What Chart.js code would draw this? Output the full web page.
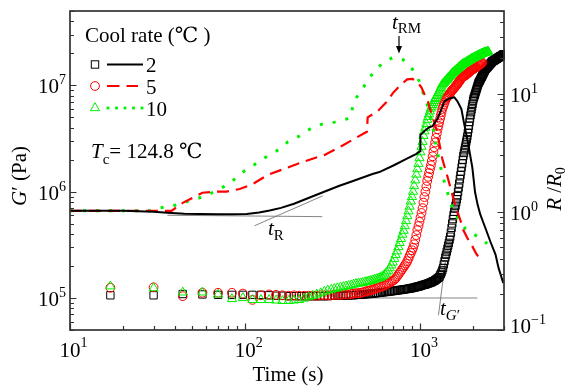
<!DOCTYPE html>
<html><head><meta charset="utf-8">
<script src="https://cdn.jsdelivr.net/npm/chart.js@4.4.1/dist/chart.umd.min.js"></script>
<style>html,body{margin:0;padding:0;background:#fff;}canvas{display:block;}</style>
</head><body>
<canvas id="c" width="568" height="386" style="width:568px;height:386px"></canvas>
<script>
// ---------- data ----------
const seriesLabels = ['2', '5', '10'];           // cooling rate (°C/min)
// sampling times of the G' measurements (s)
const time = [17,30,44,57,70,84,97,110,123,137,150,163,177,190,203,217,230,243,256,270,283,296,310,323,336,350,363,376,389,403,416,429,443,456,469,483,496,509,522,536,549,562,576,589,602,616,629,642,655,669,682,695,709,722,735,749,762,775,788,802,815,828,842,855,868,882,895,908,921,935,948,961,975,988,1001,1015,1028,1041,1054,1068,1081,1094,1108,1121,1134,1148,1161,1174,1187,1201,1214,1227,1241,1254,1267,1281,1294,1307,1320,1334,1347,1360,1374,1387,1400,1414,1427,1440,1453,1467,1480,1493,1507,1520,1533,1547,1560,1573,1586,1600,1613,1626,1640,1653,1666,1680,1693,1706,1719,1733,1746,1759,1773,1786,1799,1813,1826,1839,1852,1866,1879,1892,1906,1919,1932,1946,1959,1972,1985,1999,2012,2025,2039,2052,2065,2079,2092,2105,2118,2132,2145,2158,2172,2185,2198,2212,2225,2238,2251,2265,2278,2291,2305,2318,2331,2344,2358,2371,2384,2398,2411,2424,2437,2451,2464,2477,2491,2504,2517,2531,2544,2557,2570,2584,2597,2610,2624,2637,2650,2663,2677,2690,2703,2717,2730,2743,2756,2770,2783,2796,2810,2823,2836,2850,2863,2876,2890,2903,2916,2929,2943,2956,2969,2983];
// G' (Pa), cooling rate 2
const gRate2 = [1.06e5,1.06e5,1.09e5,1.08e5,1.07e5,1.07e5,1.07e5,1.07e5,1.07e5,1.06e5,
1.05e5,1.05e5,1.04e5,1.04e5,1.04e5,1.04e5,1.04e5,1.04e5,1.04e5,1.04e5,
1.04e5,1.04e5,1.05e5,1.05e5,1.05e5,1.05e5,1.05e5,1.05e5,1.06e5,1.06e5,
1.06e5,1.07e5,1.07e5,1.07e5,1.08e5,1.08e5,1.09e5,1.09e5,1.10e5,1.10e5,
1.11e5,1.11e5,1.12e5,1.12e5,1.13e5,1.13e5,1.14e5,1.14e5,1.15e5,1.15e5,
1.16e5,1.16e5,1.17e5,1.17e5,1.18e5,1.18e5,1.19e5,1.19e5,1.20e5,1.20e5,
1.21e5,1.21e5,1.22e5,1.22e5,1.23e5,1.23e5,1.24e5,1.25e5,1.25e5,1.26e5,
1.27e5,1.28e5,1.28e5,1.29e5,1.30e5,1.31e5,1.32e5,1.33e5,1.33e5,1.34e5,
1.35e5,1.36e5,1.37e5,1.38e5,1.39e5,1.40e5,1.41e5,1.43e5,1.44e5,1.45e5,
1.47e5,1.49e5,1.51e5,1.53e5,1.55e5,1.57e5,1.63e5,1.68e5,1.74e5,1.82e5,
1.92e5,2.07e5,2.23e5,2.40e5,2.55e5,2.73e5,2.91e5,3.10e5,3.30e5,3.53e5,
3.77e5,4.12e5,4.57e5,5.02e5,5.52e5,6.05e5,6.47e5,6.92e5,7.38e5,7.93e5,
8.47e5,9.06e5,9.95e5,1.09e6,1.19e6,1.31e6,1.43e6,1.55e6,1.69e6,1.84e6,
2.00e6,2.17e6,2.31e6,2.45e6,2.60e6,2.77e6,2.94e6,3.11e6,3.30e6,3.58e6,
3.86e6,4.17e6,4.52e6,4.88e6,5.22e6,5.58e6,5.93e6,6.31e6,6.70e6,7.16e6,
7.52e6,7.76e6,8.04e6,8.31e6,8.59e6,8.91e6,9.20e6,9.51e6,9.84e6,1.02e7,
1.05e7,1.07e7,1.09e7,1.11e7,1.13e7,1.16e7,1.18e7,1.20e7,1.22e7,1.25e7,
1.27e7,1.30e7,1.33e7,1.35e7,1.38e7,1.41e7,1.42e7,1.44e7,1.45e7,1.47e7,
1.48e7,1.50e7,1.51e7,1.53e7,1.55e7,1.56e7,1.58e7,1.59e7,1.61e7,1.63e7,
1.64e7,1.66e7,1.68e7,1.69e7,1.69e7,1.70e7,1.71e7,1.72e7,1.73e7,1.74e7,
1.75e7,1.76e7,1.77e7,1.77e7,1.78e7,1.79e7,1.80e7,1.81e7,1.82e7,1.83e7,
1.84e7,1.85e7,1.86e7,1.87e7,1.87e7,1.88e7,1.89e7,1.90e7,1.91e7,1.92e7,
1.93e7,1.94e7,1.95e7,1.95e7];
// G' (Pa), cooling rate 5
const gRate5 = [1.25e5,1.26e5,1.04e5,1.12e5,1.12e5,1.12e5,1.10e5,9.6e4,1.06e5,1.08e5,
1.07e5,1.06e5,1.05e5,1.06e5,1.05e5,1.05e5,1.05e5,1.05e5,1.05e5,1.06e5,
1.06e5,1.06e5,1.06e5,1.07e5,1.07e5,1.07e5,1.08e5,1.08e5,1.08e5,1.09e5,
1.10e5,1.11e5,1.11e5,1.12e5,1.13e5,1.15e5,1.16e5,1.17e5,1.19e5,1.20e5,
1.22e5,1.24e5,1.25e5,1.27e5,1.28e5,1.30e5,1.32e5,1.35e5,1.37e5,1.40e5,
1.43e5,1.45e5,1.48e5,1.53e5,1.59e5,1.66e5,1.73e5,1.80e5,1.87e5,1.95e5,
2.03e5,2.11e5,2.22e5,2.35e5,2.50e5,2.65e5,2.81e5,2.97e5,3.20e5,3.53e5,
3.90e5,4.35e5,4.75e5,5.20e5,5.70e5,6.30e5,7.00e5,7.90e5,8.90e5,1.00e6,
1.12e6,1.26e6,1.38e6,1.50e6,1.63e6,1.77e6,1.94e6,2.15e6,2.37e6,2.62e6,
2.90e6,3.20e6,3.55e6,3.87e6,4.17e6,4.50e6,4.84e6,5.20e6,5.60e6,6.00e6,
6.30e6,6.60e6,6.90e6,7.25e6,7.50e6,7.65e6,7.80e6,7.95e6,8.10e6,8.30e6,
8.50e6,8.65e6,8.85e6,9.00e6,9.15e6,9.30e6,9.45e6,9.60e6,9.80e6,9.95e6,
1.01e7,1.03e7,1.05e7,1.07e7,1.09e7,1.11e7,1.13e7,1.15e7,1.17e7,1.19e7,
1.20e7,1.21e7,1.22e7,1.23e7,1.24e7,1.25e7,1.26e7,1.27e7,1.29e7,1.30e7,
1.31e7,1.32e7,1.34e7,1.35e7,1.37e7,1.38e7,1.39e7,1.40e7,1.41e7,1.42e7,
1.43e7,1.44e7,1.45e7,1.46e7,1.47e7,1.48e7,1.49e7,1.50e7,1.52e7,1.53e7,
1.54e7,1.55e7,1.56e7,1.57e7,1.59e7,1.60e7,1.61e7,1.62e7,1.64e7];
// G' (Pa), cooling rate 10
const gRate10 = [1.29e5,1.24e5,1.13e5,1.13e5,1.08e5,9.8e4,1.00e5,9.6e4,9.6e4,9.6e4,
9.5e4,9.4e4,9.4e4,9.5e4,9.6e4,9.9e4,1.02e5,1.05e5,1.08e5,1.11e5,
1.15e5,1.18e5,1.20e5,1.22e5,1.24e5,1.26e5,1.27e5,1.29e5,1.30e5,1.32e5,
1.34e5,1.36e5,1.37e5,1.38e5,1.39e5,1.41e5,1.42e5,1.44e5,1.45e5,1.47e5,
1.49e5,1.51e5,1.53e5,1.55e5,1.58e5,1.62e5,1.67e5,1.74e5,1.81e5,1.91e5,
2.03e5,2.16e5,2.34e5,2.54e5,2.75e5,3.02e5,3.30e5,3.60e5,3.95e5,4.30e5,
4.75e5,5.30e5,5.90e5,6.55e5,7.25e5,8.10e5,8.95e5,1.00e6,1.13e6,1.28e6,
1.45e6,1.63e6,1.83e6,2.07e6,2.35e6,2.65e6,2.95e6,3.35e6,3.70e6,4.00e6,
4.35e6,4.75e6,5.05e6,5.35e6,5.70e6,6.05e6,6.30e6,6.55e6,6.85e6,7.15e6,
7.45e6,7.65e6,7.95e6,8.20e6,8.50e6,8.80e6,9.15e6,9.45e6,9.80e6,1.02e7,
1.03e7,1.05e7,1.07e7,1.09e7,1.11e7,1.13e7,1.15e7,1.17e7,1.19e7,1.21e7,
1.23e7,1.25e7,1.27e7,1.30e7,1.31e7,1.33e7,1.34e7,1.36e7,1.38e7,1.39e7,
1.41e7,1.43e7,1.44e7,1.46e7,1.48e7,1.50e7,1.51e7,1.53e7,1.55e7,1.57e7,
1.58e7,1.59e7,1.60e7,1.61e7,1.62e7,1.63e7,1.65e7,1.66e7,1.67e7,1.68e7,
1.70e7,1.71e7,1.72e7,1.73e7,1.74e7,1.76e7,1.77e7,1.78e7,1.79e7,1.80e7,
1.81e7,1.82e7,1.83e7,1.84e7,1.85e7,1.86e7,1.87e7,1.88e7,1.89e7,1.90e7,
1.91e7,1.92e7,1.93e7,1.94e7,1.95e7,1.96e7,1.97e7,1.98e7,1.99e7,2.00e7,
2.00e7,2.01e7,2.02e7,2.02e7,2.03e7,2.03e7,2.04e7,2.05e7,2.05e7,2.06e7,
2.06e7,2.07e7,2.08e7];
// R/R0 curves
const rTime2 = [10,20,30,36,45,55,70,85,102,120,138,160,190,224,280,345,394,533,583,711,832,949,995,1000,1013,1054,1125,1170,1250,1318,1370,1460,1563,1627,1714,1770,1878,1980,2050,2120,2197,2280,2346,2510,2684,2790,2970];
const rRate2 = [1.02,1.02,1.0,0.98,0.965,0.96,0.955,0.955,0.96,0.985,1.025,1.08,1.17,1.29,1.47,1.66,1.78,2.09,2.17,2.49,2.8,3.09,3.25,4.5,4.55,4.82,5.2,5.3,6.1,7.4,8.6,9.1,9.3,8.6,7.4,5.74,3.68,2.35,1.47,1.15,0.95,0.82,0.733,0.558,0.434,0.337,0.25];
const rTime5 = [10,38,44,50,57,69,78,93,110,134,172,221,284,364,480,495,500,570,640,700,760,840,900,949,1013,1054,1096,1125,1170,1233,1282,1334,1425,1502,1563,1627,1690,1757,1853,1980,2086,2228];
const rRate5 = [1.02,1.02,1.19,1.31,1.45,1.48,1.48,1.56,1.71,2.05,2.35,2.69,3.03,3.68,4.64,4.75,6.3,7.1,8.5,10.2,11.6,13.2,13.3,12.8,11.3,9.9,9.0,7.7,6.45,5.0,3.8,2.8,2.0,1.5,1.2,1.0,0.85,0.70,0.60,0.51,0.44,0.386];
const rTime10 = [10,28.6,32.6,38.6,45.2,53,61,71.6,83.8,93,110,129,151,175,204,239,276,324,379,400,410,426,474,540,615,701,800,900,986,1027,1082,1170,1218,1268,1334,1425,1521,1650,1805,1980,2140,2409];
const rRate10 = [1.02,1.02,1.08,1.12,1.21,1.29,1.39,1.56,1.79,2.09,2.44,2.86,3.27,3.9,4.38,5.11,5.53,5.74,6.09,6.3,7.69,9.0,11.4,15.2,18.4,20.3,19.3,16.1,12.7,10.5,8.6,5.5,3.9,2.9,2.05,1.47,1.08,0.85,0.72,0.66,0.61,0.54];
// tangent construction lines
const tanRFlatT = [36, 275], tanRFlatV = [0.935, 0.91];
const tanRSlopeT = [113, 277], tanRSlopeV = [0.762, 1.365];
const tanGFlatT = [350, 2113], tanGFlatV = [1.0e5, 1.0e5];
const tanGSteepT = [1268, 1387], tanGSteepV = [6.9e4, 2.18e5];
// tick labels
const xTickVals = [10, 100, 1000], xTickExp = ['1', '2', '3'];
const yTickVals = [1e5, 1e6, 1e7], yTickExp = ['5', '6', '7'];
const y2TickVals = [0.1, 1, 10], y2TickExp = ['\u22121', '0', '1'];

// ---------- chart ----------
const pts = (xs, ys) => ys.map((v, i) => ({x: xs[i], y: v}));
const FAM = '"Liberation Serif", "Times New Roman", "DejaVu Serif", "Noto Sans CJK SC", serif';
const fnt = (s, it) => (it ? 'italic ' : '') + s + 'px ' + FAM;
const RED = '#ff0000', GREEN = '#00f000', BLACK = '#000000';

function runs(ctx, x, y, parts, align) {
  let total = 0;
  parts.forEach(p => { ctx.font = p.f; p.w = ctx.measureText(p.t).width; total += p.w; });
  let cx = align === 'center' ? x - total / 2 : (align === 'right' ? x - total : x);
  parts.forEach(p => { ctx.font = p.f; ctx.fillText(p.t, cx, y + (p.dy || 0)); cx += p.w; });
}

const decor = {
  id: 'decor',
  afterDraw(chart) {
    const {ctx, chartArea: a, scales} = chart;
    const xs = scales.x, yl = scales.y, yr = scales.y2;
    ctx.save();
    ctx.textAlign = 'left'; ctx.textBaseline = 'alphabetic';
    // ticks (inward)
    const logTicks = (sc) => { const out = []; for (let e = -3; e <= 9; e++) for (let m = 1; m <= 9; m++) { const v = m * Math.pow(10, e); if (v >= sc.min * 0.999 && v <= sc.max * 1.001) out.push({v, major: m === 1}); } return out; };
    ctx.strokeStyle = '#333'; ctx.lineWidth = 1.2;
    ctx.beginPath();
    logTicks(xs).forEach(t => { const p = Math.round(xs.getPixelForValue(t.v)) + 0.5; const L = t.major ? 6.5 : 4; ctx.moveTo(p, a.bottom); ctx.lineTo(p, a.bottom - L); });
    logTicks(yl).forEach(t => { const p = Math.round(yl.getPixelForValue(t.v)) + 0.5; const L = t.major ? 6.5 : 4; ctx.moveTo(a.left, p); ctx.lineTo(a.left + L, p); });
    logTicks(yr).forEach(t => { const p = Math.round(yr.getPixelForValue(t.v)) + 0.5; const L = t.major ? 6.5 : 4; ctx.moveTo(a.right, p); ctx.lineTo(a.right - L, p); });
    ctx.stroke();
    // frame
    ctx.lineWidth = 1.7; ctx.strokeStyle = '#333';
    ctx.strokeRect(a.left, a.top, a.right - a.left, a.bottom - a.top);
    ctx.fillStyle = '#000';
    // tick labels
    xTickVals.forEach((v, i) => {
      const p = xs.getPixelForValue(v);
      ctx.font = fnt(21); const w = ctx.measureText('10').width;
      ctx.fillText('10', p - w / 2, a.bottom + 26.5);
      ctx.font = fnt(14); ctx.fillText(xTickExp[i], p + w / 2, a.bottom + 17);
    });
    yTickVals.forEach((v, i) => {
      const p = yl.getPixelForValue(v);
      ctx.font = fnt(14); const we = ctx.measureText(yTickExp[i]).width;
      ctx.font = fnt(21); const w = ctx.measureText('10').width;
      const r = a.left - 4;
      ctx.fillText('10', r - we - w, p + 8);
      ctx.font = fnt(14); ctx.fillText(yTickExp[i], r - we, p - 1);
    });
    y2TickVals.forEach((v, i) => {
      const p = yr.getPixelForValue(v);
      const base = Math.min(p + 8, a.bottom + 3);
      ctx.font = fnt(21); const w = ctx.measureText('10').width;
      ctx.fillText('10', a.right + 6, base);
      ctx.font = fnt(14); ctx.fillText(y2TickExp[i], a.right + 6 + w, base - 9);
    });
    // axis titles
    runs(ctx, (a.left + a.right) / 2 + 1, a.bottom + 51, [{t: 'Time (s)', f: fnt(21)}], 'center');
    ctx.save(); ctx.translate(26, 176); ctx.rotate(-Math.PI / 2);
    runs(ctx, 0, 0, [{t: 'G', f: fnt(21, true)}, {t: '\u2032 (Pa)', f: fnt(21)}], 'center');
    ctx.restore();
    ctx.save(); ctx.translate(561, 189); ctx.rotate(-Math.PI / 2);
    runs(ctx, 0, 0, [{t: 'R', f: fnt(21, true)}, {t: ' /', f: fnt(21)}, {t: 'R', f: fnt(21, true)}, {t: '0', f: fnt(14), dy: 4}], 'center');
    ctx.restore();
    // legend
    runs(ctx, 85, 41.5, [{t: 'Cool rate (', f: fnt(21)}, {t: '\u2103', f: fnt(21)}, {t: ' )', f: fnt(21)}], 'left');
    const rows = [64.5, 86, 108];
    const mx = 95;
    ctx.lineWidth = 1;
    ctx.strokeStyle = BLACK; ctx.strokeRect(mx - 3.7, rows[0] - 3.7, 7.4, 7.4);
    ctx.strokeStyle = RED; ctx.beginPath(); ctx.arc(mx, rows[1], 4.4, 0, Math.PI * 2); ctx.stroke();
    ctx.strokeStyle = GREEN; ctx.beginPath();
    const tr = 5.3;
    ctx.moveTo(mx, rows[2] - tr); ctx.lineTo(mx + tr * 0.866, rows[2] + tr / 2); ctx.lineTo(mx - tr * 0.866, rows[2] + tr / 2); ctx.closePath(); ctx.stroke();
    ctx.lineWidth = 2; ctx.strokeStyle = BLACK; ctx.setLineDash([]);
    ctx.beginPath(); ctx.moveTo(107, rows[0]); ctx.lineTo(143, rows[0]); ctx.stroke();
    ctx.lineWidth = 2.2; ctx.strokeStyle = RED; ctx.setLineDash([12.5, 7]);
    ctx.beginPath(); ctx.moveTo(107, rows[1]); ctx.lineTo(138, rows[1]); ctx.stroke();
    ctx.setLineDash([]); ctx.fillStyle = GREEN;
    [108, 116.5, 125, 133.5, 142].forEach(x => ctx.fillRect(x - 1.4, rows[2] - 1.4, 2.8, 2.8));
    ctx.fillStyle = '#000';
    seriesLabels.forEach((s, i) => { ctx.font = fnt(21); ctx.fillText(s, 146, rows[i] + 7.5); });
    // Tc
    runs(ctx, 91, 157.5, [{t: 'T', f: fnt(21, true)}, {t: 'c', f: fnt(15), dy: 6}, {t: '= 124.8 \u2103', f: fnt(21)}], 'left');
    // annotations
    runs(ctx, 392, 29, [{t: 't', f: fnt(21, true)}, {t: 'RM', f: fnt(15), dy: 4}], 'left');
    ctx.strokeStyle = '#000'; ctx.lineWidth = 1.2;
    ctx.beginPath(); ctx.moveTo(399, 36); ctx.lineTo(399, 48); ctx.stroke();
    ctx.beginPath(); ctx.moveTo(396, 46); ctx.lineTo(402, 46); ctx.lineTo(399, 53.5); ctx.closePath(); ctx.fill();
    runs(ctx, 268, 235, [{t: 't', f: fnt(21, true)}, {t: 'R', f: fnt(15), dy: 5}], 'left');
    runs(ctx, 440, 315, [{t: 't', f: fnt(21, true)}, {t: 'G', f: fnt(15, true), dy: 5}, {t: '\u2032', f: fnt(15), dy: 5}], 'left');
    ctx.restore();
  }
};

const markerDS = (data, style, color, r, order) => ({
  data, showLine: false, pointStyle: style, pointRadius: r, pointHoverRadius: r,
  pointBorderColor: color, pointBackgroundColor: 'rgba(0,0,0,0)', pointBorderWidth: 1,
  xAxisID: 'x', yAxisID: 'y', order, clip: 1
});
const lineDS = (data, color, width, dash, order, axis) => ({
  data, showLine: true, pointRadius: 0, pointHoverRadius: 0, borderColor: color, borderWidth: width,
  borderDash: dash, tension: 0, fill: false, xAxisID: 'x', yAxisID: axis, order, clip: 1
});

new Chart(document.getElementById('c'), {
  type: 'scatter',
  data: {
    datasets: [
      lineDS(pts(tanRFlatT, tanRFlatV), '#666', 0.8, [], 9, 'y2'),
      lineDS(pts(tanRSlopeT, tanRSlopeV), '#666', 0.8, [], 9, 'y2'),
      lineDS(pts(tanGFlatT, tanGFlatV), '#666', 0.8, [], 9, 'y'),
      lineDS(pts(tanGSteepT, tanGSteepV), '#666', 0.8, [], 9, 'y'),
      markerDS(pts(time, gRate2), 'rect', BLACK, 5.2, 6),
      markerDS(pts(time, gRate5), 'circle', RED, 4.4, 5),
      markerDS(pts(time, gRate10), 'triangle', GREEN, 5.3, 4),
      lineDS(pts(rTime10, rRate10), GREEN, 3, [3, 10], 2, 'y2'),
      lineDS(pts(rTime5, rRate5), RED, 2.2, [12, 7], 1, 'y2'),
      lineDS(pts(rTime2, rRate2), BLACK, 2, [], 0, 'y2')
    ]
  },
  options: {
    responsive: false, animation: false, devicePixelRatio: 1, events: [],
    layout: {padding: {left: 70, right: 64, top: 11, bottom: 56}},
    plugins: {legend: {display: false}, tooltip: {enabled: false}},
    scales: {
      x: {type: 'logarithmic', min: 10, max: 3000, display: false},
      y: {type: 'logarithmic', position: 'left', min: 5e4, max: 5e7, display: false},
      y2: {type: 'logarithmic', position: 'right', min: 0.1, max: 50, display: false}
    }
  },
  plugins: [decor]
});
</script>
</body></html>
